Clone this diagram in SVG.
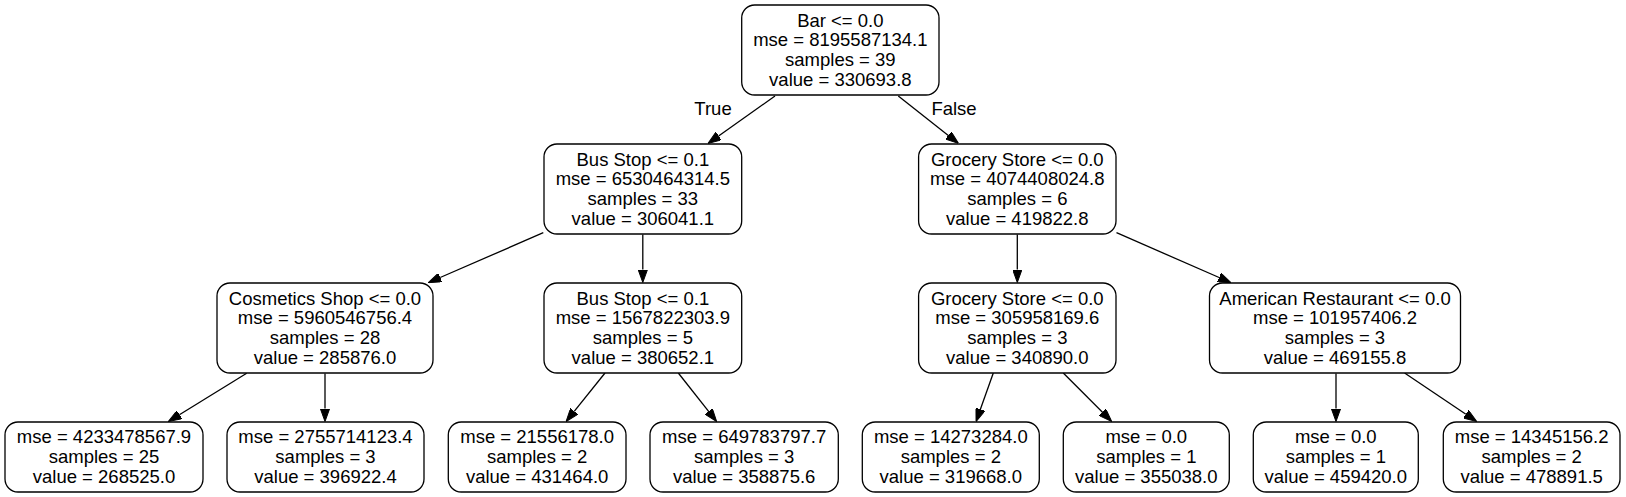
<svg xmlns="http://www.w3.org/2000/svg" width="1626" height="497" viewBox="0 0 1626 497">
<style>
.n rect{fill:#fff;stroke:#000;stroke-width:1.3}
text{font-family:"Liberation Sans",Arial,Helvetica,sans-serif;font-size:18.5px;fill:#000;text-anchor:middle}
.e line{stroke:#000;stroke-width:1.3;fill:none}
</style>
<defs>
<marker id="ah" viewBox="0 0 13 9.4" markerWidth="13" markerHeight="9.4" markerUnits="userSpaceOnUse" refX="0" refY="4.7" orient="auto">
<path d="M0,0 L13,4.7 L0,9.4 z" fill="#000" stroke="#000" stroke-width="1"/>
</marker>
</defs>
<rect width="1626" height="497" fill="#fff"/>
<g id="edges" class="e">
<line x1="775" y1="96" x2="718.6" y2="136" marker-end="url(#ah)"/>
<line x1="898.3" y1="96" x2="948.3" y2="135.4" marker-end="url(#ah)"/>
<line x1="543.3" y1="232.7" x2="440.2" y2="277.5" marker-end="url(#ah)"/>
<line x1="642.8" y1="234.5" x2="642.8" y2="269.5" marker-end="url(#ah)"/>
<line x1="1017.3" y1="234.5" x2="1017.3" y2="269.5" marker-end="url(#ah)"/>
<line x1="1116.5" y1="232.7" x2="1219.1" y2="277.5" marker-end="url(#ah)"/>
<line x1="246.7" y1="373.3" x2="179.4" y2="414.7" marker-end="url(#ah)"/>
<line x1="325" y1="373.5" x2="325" y2="408.5" marker-end="url(#ah)"/>
<line x1="605" y1="373" x2="574.2" y2="411.4" marker-end="url(#ah)"/>
<line x1="678.3" y1="373" x2="708.6" y2="411.3" marker-end="url(#ah)"/>
<line x1="993.3" y1="373" x2="980.4" y2="409.3" marker-end="url(#ah)"/>
<line x1="1063.3" y1="373" x2="1102.5" y2="412.3" marker-end="url(#ah)"/>
<line x1="1336" y1="373.5" x2="1336" y2="408.5" marker-end="url(#ah)"/>
<line x1="1404.6" y1="373" x2="1465.9" y2="414.2" marker-end="url(#ah)"/>
<text x="713" y="115">True</text>
<text x="954" y="115">False</text>
</g>
<g id="n0" class="n"><rect x="741.7" y="5" width="197.3" height="90" rx="13"/>
<text x="840.35" y="26.5">Bar &lt;= 0.0</text><text x="840.35" y="46.3">mse = 8195587134.1</text><text x="840.35" y="66.1">samples = 39</text><text x="840.35" y="85.9">value = 330693.8</text></g>
<g id="n1" class="n"><rect x="544" y="144" width="197.7" height="90" rx="13"/>
<text x="642.85" y="165.5">Bus Stop &lt;= 0.1</text><text x="642.85" y="185.3">mse = 6530464314.5</text><text x="642.85" y="205.1">samples = 33</text><text x="642.85" y="224.9">value = 306041.1</text></g>
<g id="n2" class="n"><rect x="918.6" y="144" width="197.4" height="90" rx="13"/>
<text x="1017.3" y="165.5">Grocery Store &lt;= 0.0</text><text x="1017.3" y="185.3">mse = 4074408024.8</text><text x="1017.3" y="205.1">samples = 6</text><text x="1017.3" y="224.9">value = 419822.8</text></g>
<g id="n3" class="n"><rect x="217" y="283" width="216" height="90" rx="13"/>
<text x="325" y="304.5">Cosmetics Shop &lt;= 0.0</text><text x="325" y="324.3">mse = 5960546756.4</text><text x="325" y="344.1">samples = 28</text><text x="325" y="363.9">value = 285876.0</text></g>
<g id="n4" class="n"><rect x="544" y="283" width="197.7" height="90" rx="13"/>
<text x="642.85" y="304.5">Bus Stop &lt;= 0.1</text><text x="642.85" y="324.3">mse = 1567822303.9</text><text x="642.85" y="344.1">samples = 5</text><text x="642.85" y="363.9">value = 380652.1</text></g>
<g id="n5" class="n"><rect x="918.6" y="283" width="197.4" height="90" rx="13"/>
<text x="1017.3" y="304.5">Grocery Store &lt;= 0.0</text><text x="1017.3" y="324.3">mse = 305958169.6</text><text x="1017.3" y="344.1">samples = 3</text><text x="1017.3" y="363.9">value = 340890.0</text></g>
<g id="n6" class="n"><rect x="1209.5" y="283" width="251" height="90" rx="13"/>
<text x="1335" y="304.5">American Restaurant &lt;= 0.0</text><text x="1335" y="324.3">mse = 101957406.2</text><text x="1335" y="344.1">samples = 3</text><text x="1335" y="363.9">value = 469155.8</text></g>
<g id="n7" class="n"><rect x="5" y="422" width="198" height="70" rx="13"/>
<text x="104" y="443.2">mse = 4233478567.9</text><text x="104" y="463">samples = 25</text><text x="104" y="482.8">value = 268525.0</text></g>
<g id="n8" class="n"><rect x="227" y="422" width="197" height="70" rx="13"/>
<text x="325.5" y="443.2">mse = 2755714123.4</text><text x="325.5" y="463">samples = 3</text><text x="325.5" y="482.8">value = 396922.4</text></g>
<g id="n9" class="n"><rect x="448.3" y="422" width="177.7" height="70" rx="13"/>
<text x="537.15" y="443.2">mse = 21556178.0</text><text x="537.15" y="463">samples = 2</text><text x="537.15" y="482.8">value = 431464.0</text></g>
<g id="n10" class="n"><rect x="650" y="422" width="188.3" height="70" rx="13"/>
<text x="744.15" y="443.2">mse = 649783797.7</text><text x="744.15" y="463">samples = 3</text><text x="744.15" y="482.8">value = 358875.6</text></g>
<g id="n11" class="n"><rect x="862.3" y="422" width="177" height="70" rx="13"/>
<text x="950.8" y="443.2">mse = 14273284.0</text><text x="950.8" y="463">samples = 2</text><text x="950.8" y="482.8">value = 319668.0</text></g>
<g id="n12" class="n"><rect x="1063.3" y="422" width="166" height="70" rx="13"/>
<text x="1146.3" y="443.2">mse = 0.0</text><text x="1146.3" y="463">samples = 1</text><text x="1146.3" y="482.8">value = 355038.0</text></g>
<g id="n13" class="n"><rect x="1253.3" y="422" width="165" height="70" rx="13"/>
<text x="1335.8" y="443.2">mse = 0.0</text><text x="1335.8" y="463">samples = 1</text><text x="1335.8" y="482.8">value = 459420.0</text></g>
<g id="n14" class="n"><rect x="1443.3" y="422" width="176.7" height="70" rx="13"/>
<text x="1531.65" y="443.2">mse = 14345156.2</text><text x="1531.65" y="463">samples = 2</text><text x="1531.65" y="482.8">value = 478891.5</text></g>
</svg>
